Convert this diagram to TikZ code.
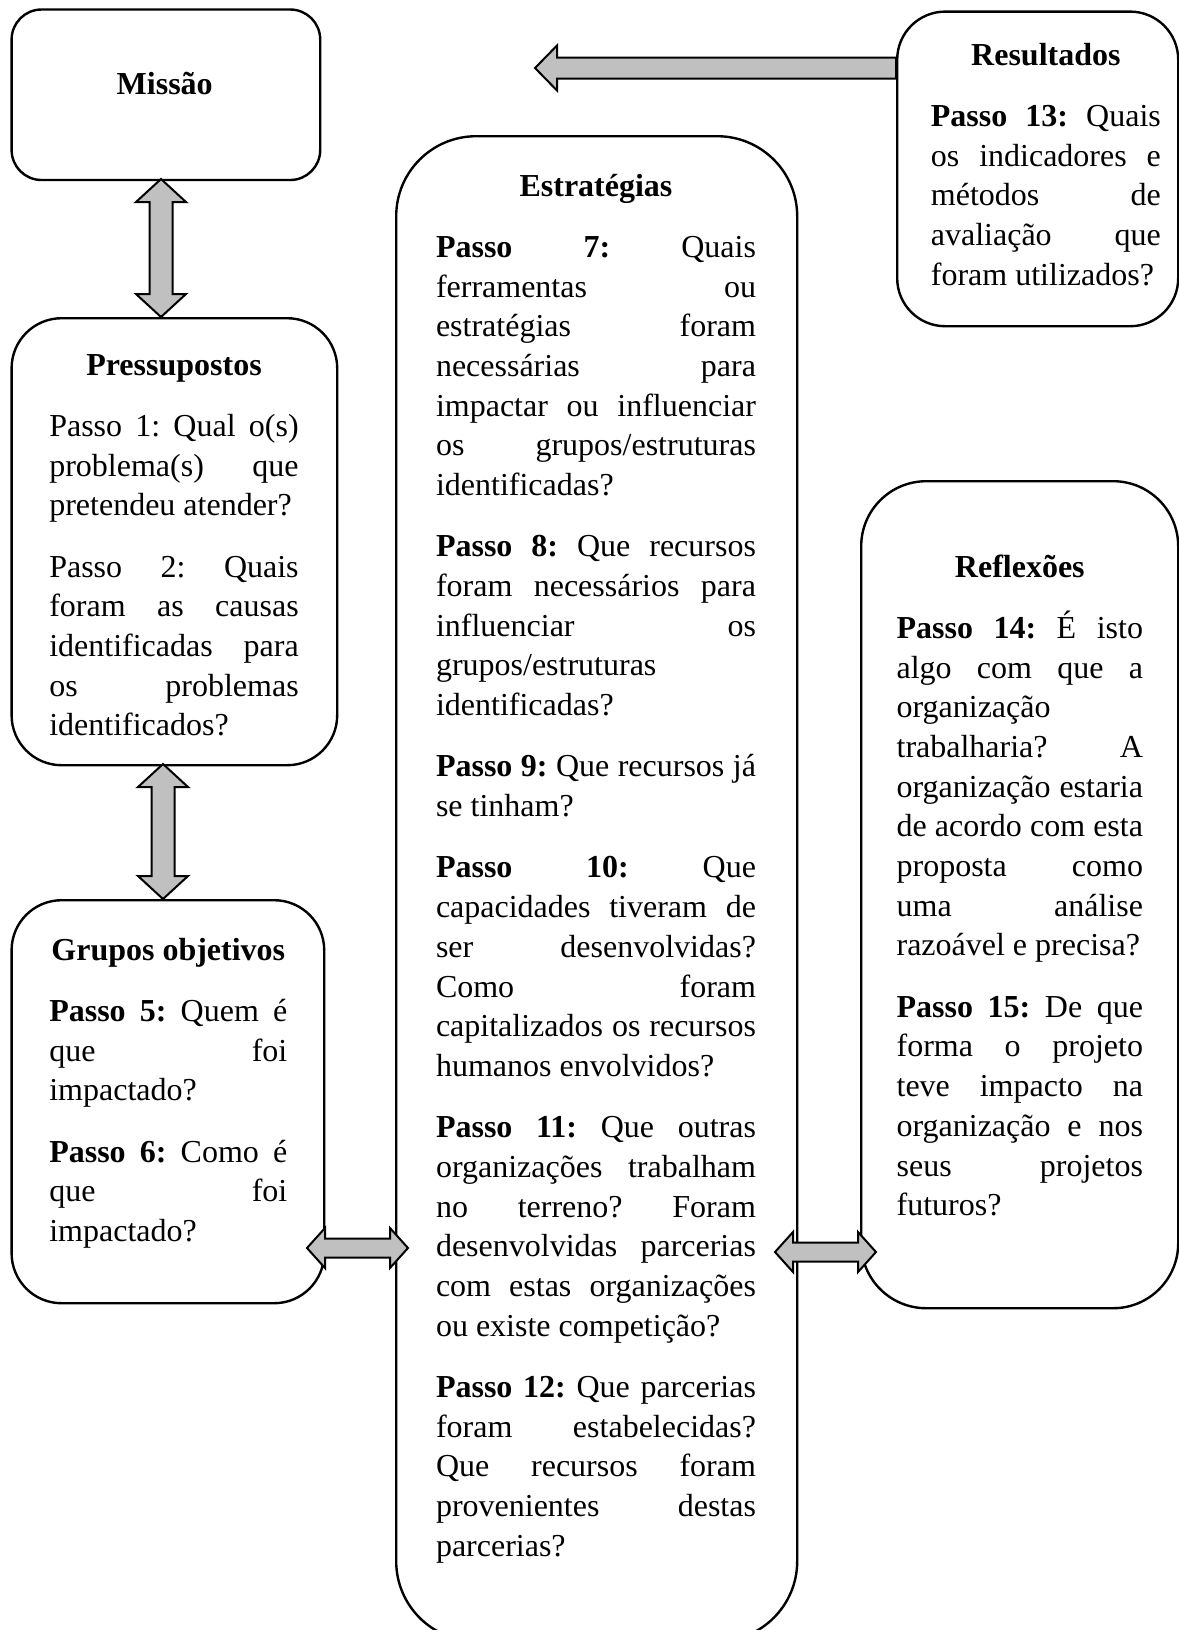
\documentclass[tikz,border=0pt]{standalone}
\usepackage{fontspec}
\setmainfont{Liberation Serif}
\usetikzlibrary{calc}
\definecolor{arrowgray}{RGB}{192,192,192}
\hbadness=10000
\hfuzz=6pt
\frenchspacing
\newlength\pgap
\setlength\pgap{10.8pt}
\newcommand\jline[1]{\hbox to\linewidth{#1}}
\newcommand\lline[1]{\hbox{#1}\vskip\pgap}
\newcommand\tline[1]{\hbox to\linewidth{\hfil\bfseries #1\hfil}\vskip\pgap}
\newcommand\colbox[2]{\parbox[t]{#1}{\fontsize{16}{19.85}\selectfont\frenchspacing #2}}
% vertical double block arrow: top, bottom, shaft half, head half, head length
\newcommand\vdarrow[5]{%
\draw[blockarrow] let \p1=(#1), \p2=(#2) in
 (\x1,\y1) -- (\x1+#4,\y1-#5) -- (\x1+#3,\y1-#5) -- (\x1+#3,\y2+#5) -- (\x1+#4,\y2+#5)
 -- (\x1,\y2) -- (\x1-#4,\y2+#5) -- (\x1-#3,\y2+#5) -- (\x1-#3,\y1-#5) -- (\x1-#4,\y1-#5) -- cycle;}
% horizontal double block arrow: left, right, shaft half, head half, head length
\newcommand\hdarrow[5]{%
\draw[blockarrow] let \p1=(#1), \p2=(#2) in
 (\x1,\y1) -- (\x1+#5,\y1+#4) -- (\x1+#5,\y1+#3) -- (\x2-#5,\y1+#3) -- (\x2-#5,\y1+#4)
 -- (\x2,\y1) -- (\x2-#5,\y1-#4) -- (\x2-#5,\y1-#3) -- (\x1+#5,\y1-#3) -- (\x1+#5,\y1-#4) -- cycle;}
% single block arrow pointing left: tip, tail
\newcommand\larrow[5]{%
\draw[blockarrow] let \p1=(#1), \p2=(#2) in
 (\x1,\y1) -- (\x1+#5,\y1+#4) -- (\x1+#5,\y1+#3) -- (\x2,\y1+#3) -- (\x2,\y1-#3)
 -- (\x1+#5,\y1-#3) -- (\x1+#5,\y1-#4) -- cycle;}
\begin{document}
\begin{tikzpicture}[x=0.5pt,y=-0.5pt,
  box/.style={draw, line width=1.2pt, rectangle, anchor=north west, inner sep=0pt},
  txt/.style={anchor=base west, inner sep=0pt},
  blockarrow/.style={draw, line width=1pt, fill=arrowgray, line join=miter}]
\useasboundingbox (0,0) rectangle (1179,1630);

% boxes
\node[box, rounded corners=15pt, minimum width=154.3pt, minimum height=85.25pt] (mis) at (10.4,8.3) {};
\node[box, rounded corners=24pt, minimum width=140.5pt, minimum height=157.3pt] (res) at (896,10.4) {};
\node[box, rounded corners=25pt, minimum width=162.8pt, minimum height=223.5pt] (pre) at (10.4,317) {};
\node[box, rounded corners=25pt, minimum width=156.3pt, minimum height=201.5pt] (gru) at (10.4,899) {};
\node[box, rounded corners=40pt, minimum width=200.5pt, minimum height=752.5pt] (est) at (395,135) {};
\node[box, rounded corners=32.5pt, minimum width=158.5pt, minimum height=413.5pt] (ref) at (860,480) {};

% texts
\node[anchor=base, inner sep=0pt, font=\fontsize{16}{19.85}\selectfont\bfseries] (mist) at (164.7,94.5) {Missão};

\node[txt] (rest) at (930.5,65) {\colbox{115pt}{%
\tline{Resultados}
\jline{\textbf{Passo 13:} Quais}
\jline{os indicadores e}
\jline{métodos de}
\jline{avaliação que}
\lline{foram utilizados?}}};

\node[txt] (pret) at (48.9,375) {\colbox{124.7pt}{%
\tline{Pressupostos}
\jline{Passo 1: Qual o(s)}
\jline{problema(s) que}
\lline{pretendeu atender?}
\jline{Passo 2: Quais}
\jline{foram as causas}
\jline{identificadas para}
\jline{os problemas}
\lline{identificados?}}};

\node[txt] (grut) at (48.9,960) {\colbox{119pt}{%
\tline{Grupos objetivos}
\jline{\textbf{Passo 5:} Quem é}
\jline{que foi}
\lline{impactado?}
\jline{\textbf{Passo 6:} Como é}
\jline{que foi}
\lline{impactado?}}};

\node[txt] (estt) at (435.6,196) {\colbox{160pt}{%
\tline{Estratégias}
\jline{\textbf{Passo 7:} Quais}
\jline{ferramentas ou}
\jline{estratégias foram}
\jline{necessárias para}
\jline{impactar ou influenciar}
\jline{os grupos/estruturas}
\lline{identificadas?}
\jline{\textbf{Passo 8:} Que recursos}
\jline{foram necessários para}
\jline{influenciar os}
\jline{grupos/estruturas}
\lline{identificadas?}
\jline{\textbf{Passo 9:} Que recursos já}
\lline{se tinham?}
\jline{\textbf{Passo 10:} Que}
\jline{capacidades tiveram de}
\jline{ser desenvolvidas?}
\jline{Como foram}
\jline{capitalizados os recursos}
\lline{humanos envolvidos?}
\jline{\textbf{Passo 11:} Que outras}
\jline{organizações trabalham}
\jline{no terreno? Foram}
\jline{desenvolvidas parcerias}
\jline{com estas organizações}
\lline{ou existe competição?}
\jline{\textbf{Passo 12:} Que parcerias}
\jline{foram estabelecidas?}
\jline{Que recursos foram}
\jline{provenientes destas}
\lline{parcerias?}}};

\node[txt] (reft) at (896.2,577) {\colbox{123.2pt}{%
\tline{Reflexões}
\jline{\textbf{Passo 14:} É isto}
\jline{algo com que a}
\jline{organização}
\jline{trabalharia? A}
\jline{organização estaria}
\jline{de acordo com esta}
\jline{proposta como}
\jline{uma análise}
\lline{razoável e precisa?}
\jline{\textbf{Passo 15:} De que}
\jline{forma o projeto}
\jline{teve impacto na}
\jline{organização e nos}
\jline{seus projetos}
\lline{futuros?}}};

% arrow end points
\coordinate (a1t) at (161,179);
\coordinate (a1b) at (161,317);
\coordinate (a2t) at (163,764);
\coordinate (a2b) at (163,899);
\coordinate (a3l) at (307,1248);
\coordinate (a3r) at (408,1248);
\coordinate (a4l) at (775,1252);
\coordinate (a4r) at (876,1252);
\coordinate (a5tip) at (535,68);
\coordinate (a5tail) at (896,68);

% arrows
\vdarrow{a1t}{a1b}{5.75pt}{12.5pt}{11.5pt}
\vdarrow{a2t}{a2b}{5.75pt}{12.5pt}{11.5pt}
\hdarrow{a3l}{a3r}{4.75pt}{10pt}{9pt}
\hdarrow{a4l}{a4r}{4.75pt}{10pt}{9pt}
\larrow{a5tip}{a5tail}{5.25pt}{11.25pt}{11pt}
\end{tikzpicture}
\end{document}
